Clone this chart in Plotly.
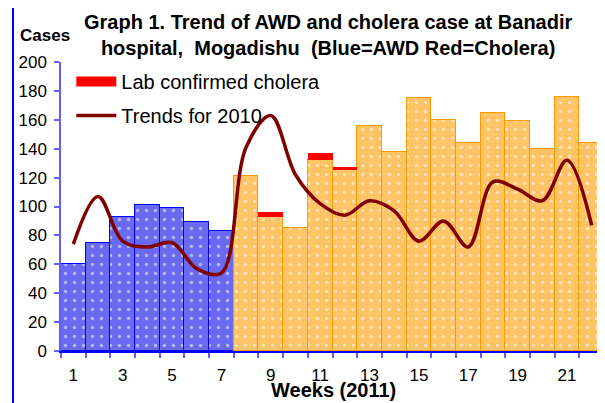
import plotly.graph_objects as go

weeks_blue = [1, 2, 3, 4, 5, 6, 7]
awd_blue = [60, 75, 93, 101, 99, 89, 83]
weeks_orange = [8, 9, 10, 11, 12, 13, 14, 15, 16, 17, 18, 19, 20, 21, 22]
awd_orange = [121, 93, 85, 132, 125, 156, 138, 175, 160, 144, 165, 159, 140, 176, 144]
cholera_weeks = [9, 11, 12]
cholera_cases = [3, 5, 2]
trend_weeks = list(range(1, 23))
trend_2010 = [74, 107, 76, 72, 75, 57, 54, 141, 163, 122, 102, 94, 104, 97, 76, 90, 72, 117, 112, 104, 132, 87]
tick_weeks = [1, 3, 5, 7, 9, 11, 13, 15, 17, 19, 21]

FONT = "Liberation Sans, Arial, sans-serif"

fig = go.Figure()
fig.add_trace(go.Bar(
    x=weeks_blue, y=awd_blue, width=1, showlegend=False,
    marker=dict(color="#7070f2", line=dict(color="#0000ff", width=1.5),
                pattern=dict(shape=".", fgcolor="white", bgcolor="#6a6af0", size=9, solidity=0.12)),
))
fig.add_trace(go.Bar(
    x=weeks_orange, y=awd_orange, width=1, showlegend=False,
    marker=dict(color="#ffc870", line=dict(color="#ff9900", width=1.5),
                pattern=dict(shape=".", fgcolor="white", bgcolor="#ffc466", size=9, solidity=0.12)),
))
fig.add_trace(go.Bar(
    x=cholera_weeks, y=cholera_cases, width=1, name="Lab confirmed cholera",
    showlegend=False, marker=dict(color="#ff0000", line=dict(width=0)),
))
# legend entry for the cholera bars (wide red swatch as in the reference)
fig.add_trace(go.Scatter(
    x=[None], y=[None], mode="lines", name="Lab confirmed cholera",
    legendgroup="a", line=dict(color="#ff0000", width=10),
))
fig.add_trace(go.Scatter(
    x=trend_weeks, y=trend_2010, mode="lines", name="Trends for 2010",
    legendgroup="b", line=dict(color="#800000", width=3.5, shape="spline", smoothing=1.0),
))

fig.update_layout(
    width=605, height=403,
    margin=dict(l=53, r=9, t=54, b=60),
    barmode="stack", bargap=0,
    plot_bgcolor="white", paper_bgcolor="white",
    font=dict(family=FONT, size=17, color="black"),
    legend=dict(x=0.019, y=1.0, xanchor="left", yanchor="top",
                bgcolor="rgba(0,0,0,0)", font=dict(size=20), tracegroupgap=5,
                itemwidth=40),
    xaxis=dict(range=[0.5, 22.5], tickvals=tick_weeks, ticktext=[str(w) for w in tick_weeks],
               ticks="outside", ticklen=8, tickcolor="rgba(0,0,0,0)", automargin=False,
               showline=True, linecolor="#0000ff", linewidth=1.5, showgrid=False, zeroline=False,
               minor=dict(tickvals=[i + 0.5 for i in range(0, 23)], ticks="outside", ticklen=5,
                          tickcolor="#6060ff", tickwidth=1.5, showgrid=False),
               tickfont=dict(size=17)),
    yaxis=dict(range=[0, 200], tickvals=list(range(0, 201, 20)), ticks="outside", ticklen=5,
               tickcolor="#6060ff", tickwidth=1.5, showline=True, linecolor="#6060ff", linewidth=1.5,
               showgrid=False, zeroline=False, tickfont=dict(size=17), ticklabelstandoff=4,
               automargin=False),
    showlegend=True,
)

fig.add_shape(type="rect", xref="paper", yref="paper", x0=-0.0884, x1=1.5, y0=-1, y1=1.211,
              line=dict(color="#0000ff", width=2), layer="below")

fig.add_annotation(text="<b>Graph 1. Trend of AWD and cholera case at Banadir<br>hospital,  Mogadishu  (Blue=AWD Red=Cholera)</b>",
                   xref="paper", yref="paper", x=(328 - 61) / 543, y=(351 - 35) / 289,
                   xanchor="center", yanchor="middle", showarrow=False,
                   font=dict(size=20, family=FONT), align="center")
fig.add_annotation(text="<b>Cases</b>", xref="paper", yref="paper", x=(45 - 61) / 543, y=(351 - 36) / 289,
                   xanchor="center", yanchor="middle", showarrow=False, font=dict(size=17, family=FONT))
fig.add_annotation(text="<b>Weeks (2011)</b>", xref="paper", yref="paper", x=(333 - 61) / 543, y=(351 - 390) / 289,
                   xanchor="center", yanchor="middle", showarrow=False, font=dict(size=20, family=FONT))

fig.write_html("out.html")
